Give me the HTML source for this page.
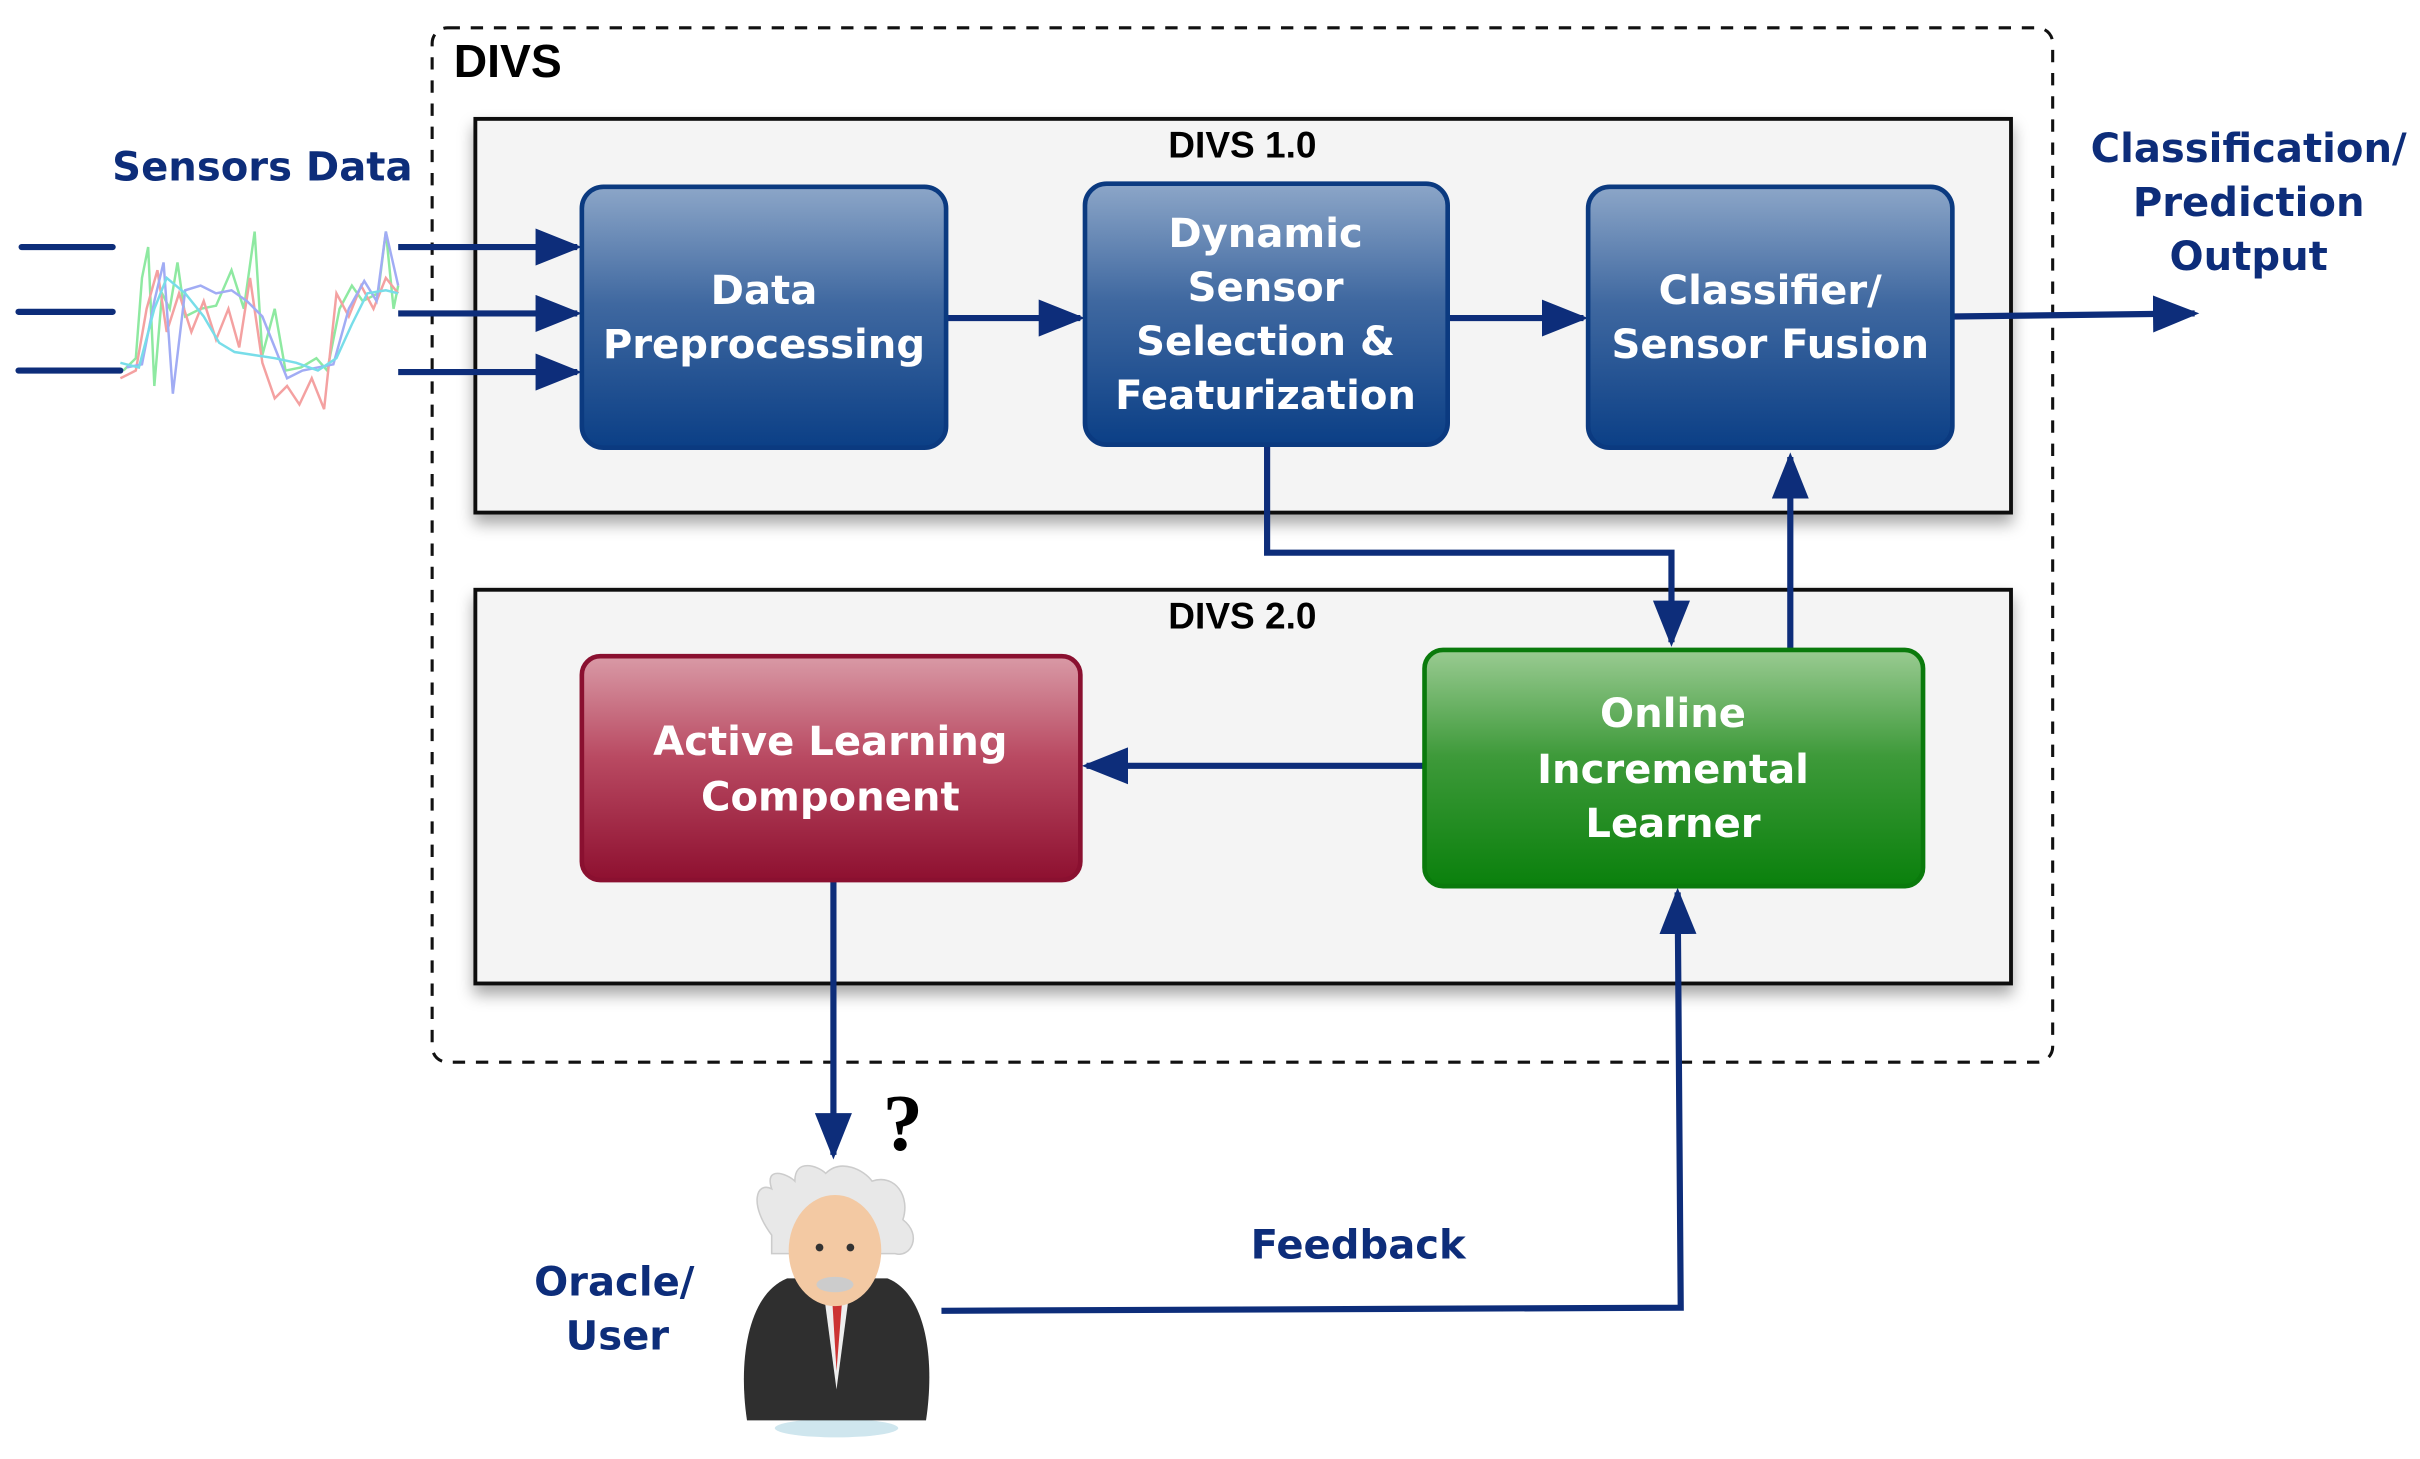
<!DOCTYPE html>
<html><head><meta charset="utf-8"><style>
html,body{margin:0;padding:0;background:#fff;}
svg{display:block;}
.bt{font-family:"DejaVu Sans","Liberation Sans",sans-serif;font-weight:bold;fill:#fff;font-size:26px;text-anchor:middle;}
.lb{font-family:"DejaVu Sans","Liberation Sans",sans-serif;font-weight:bold;fill:#0d2d7a;font-size:26px;text-anchor:middle;}
.hd{font-family:"Liberation Sans",sans-serif;font-weight:bold;fill:#000;text-anchor:middle;}
</style></head><body>
<svg width="2420" height="1459" viewBox="0 0 1568 945" preserveAspectRatio="none" xmlns="http://www.w3.org/2000/svg">
<defs>
<linearGradient id="gb" x1="0" y1="0" x2="0" y2="1"><stop offset="0" stop-color="#8ca6c8"/><stop offset="0.45" stop-color="#3f68a0"/><stop offset="1" stop-color="#0b3f86"/></linearGradient>
<linearGradient id="gr" x1="0" y1="0" x2="0" y2="1"><stop offset="0" stop-color="#d99aa6"/><stop offset="0.45" stop-color="#b94a62"/><stop offset="1" stop-color="#8e1030"/></linearGradient>
<linearGradient id="gg" x1="0" y1="0" x2="0" y2="1"><stop offset="0" stop-color="#9acb92"/><stop offset="0.45" stop-color="#3e9a3a"/><stop offset="1" stop-color="#0a800c"/></linearGradient>
<filter id="sh" x="-5%" y="-5%" width="110%" height="120%"><feDropShadow dx="0" dy="6" stdDeviation="5" flood-color="#000" flood-opacity="0.35"/></filter>
<marker id="ah" viewBox="0 0 10 10" refX="9" refY="5" markerWidth="30" markerHeight="24" markerUnits="userSpaceOnUse" orient="auto" preserveAspectRatio="none"><path d="M0,0 L10,5 L0,10 z" fill="#0d2d7a"/></marker>
</defs>
<rect x="280" y="18" width="1050" height="670" rx="10" fill="none" stroke="#111" stroke-width="2" stroke-dasharray="8,7"/>
<text x="329" y="50" class="hd" font-size="30">DIVS</text>
<rect x="308" y="77" width="995" height="255" fill="#f4f4f4" stroke="#111" stroke-width="2.5" filter="url(#sh)"/>
<rect x="308" y="382" width="995" height="255" fill="#f4f4f4" stroke="#111" stroke-width="2.5" filter="url(#sh)"/>
<text x="805" y="102" class="hd" font-size="24">DIVS 1.0</text>
<text x="805" y="407" class="hd" font-size="24">DIVS 2.0</text>
<g stroke-width="1.6" fill="none" opacity="0.7">
<polyline stroke="#5fe07a" points="80,240 88,232 92,180 96,160 100,250 105,190 110,200 115,170 120,205 130,200 140,198 150,175 158,200 165,150 170,230 178,200 185,240 195,238 205,232 212,240 220,200 228,185 235,195 245,190 250,150 255,200 258,185"/>
<polyline stroke="#f07a7a" points="78,245 88,240 95,200 102,175 108,215 116,190 124,215 132,195 140,220 148,200 155,225 162,180 170,235 178,258 186,250 194,262 202,245 210,265 218,190 226,205 234,185 242,200 250,180 258,190"/>
<polyline stroke="#7a8af0" points="82,238 92,236 100,195 106,170 112,255 120,188 130,185 140,190 150,188 160,195 170,205 178,225 186,245 196,240 206,238 216,236 226,200 236,182 244,195 250,150 258,185"/>
<polyline stroke="#40d0e0" points="78,235 90,238 100,200 108,180 120,190 132,205 142,222 152,228 165,230 178,232 192,235 206,240 218,232 228,210 238,190 250,188 258,190"/>
</g>
<g stroke="#0d2d7a" stroke-width="4" stroke-linecap="round">
<line x1="14" y1="160" x2="73" y2="160"/><line x1="12" y1="202" x2="73" y2="202"/><line x1="12" y1="240" x2="78" y2="240"/>
</g>
<g stroke="#0d2d7a" stroke-width="4" fill="none" marker-end="url(#ah)">
<line x1="258" y1="160" x2="374" y2="160"/>
<line x1="258" y1="203" x2="374" y2="203"/>
<line x1="258" y1="241" x2="374" y2="241"/>
<line x1="613" y1="206" x2="700" y2="206"/>
<line x1="938" y1="206" x2="1026" y2="206"/>
<line x1="1265" y1="205" x2="1422" y2="203"/>
<polyline points="821,288 821,358 1083,358 1083,416"/>
<line x1="1160" y1="421" x2="1160" y2="296"/>
<line x1="923" y1="496" x2="704" y2="496"/>
<polyline points="540,570 540,748"/>
<polyline points="610,849 1089,847 1087,578"/>
</g>
<rect x="377" y="121" width="236" height="169" rx="14" fill="url(#gb)" stroke="#0b3a80" stroke-width="3"/>
<rect x="703" y="119" width="235" height="169" rx="14" fill="url(#gb)" stroke="#0b3a80" stroke-width="3"/>
<rect x="1029" y="121" width="236" height="169" rx="14" fill="url(#gb)" stroke="#0b3a80" stroke-width="3"/>
<text class="bt" x="495" y="197">Data</text>
<text class="bt" x="495" y="232">Preprocessing</text>
<text class="bt" x="820" y="160">Dynamic</text>
<text class="bt" x="820" y="195">Sensor</text>
<text class="bt" x="820" y="230">Selection &amp;</text>
<text class="bt" x="820" y="265">Featurization</text>
<text class="bt" x="1147" y="197">Classifier/</text>
<text class="bt" x="1147" y="232">Sensor Fusion</text>
<rect x="377" y="425" width="323" height="145" rx="12" fill="url(#gr)" stroke="#8a1030" stroke-width="3"/>
<text class="bt" x="538" y="489">Active Learning</text>
<text class="bt" x="538" y="525">Component</text>
<rect x="923" y="421" width="323" height="153" rx="12" fill="url(#gg)" stroke="#0a7a0c" stroke-width="3"/>
<text class="bt" x="1084" y="471">Online</text>
<text class="bt" x="1084" y="507">Incremental</text>
<text class="bt" x="1084" y="542">Learner</text>
<text class="lb" x="170" y="117">Sensors Data</text>
<text class="lb" x="1457" y="105">Classification/</text>
<text class="lb" x="1457" y="140">Prediction</text>
<text class="lb" x="1457" y="175">Output</text>
<text class="lb" x="398" y="839">Oracle/</text>
<text class="lb" x="400" y="874">User</text>
<text class="lb" x="880" y="815">Feedback</text>
<text x="585" y="745" font-family="Liberation Serif,serif" font-weight="bold" font-size="52" text-anchor="middle" fill="#000">?</text>
<g>
<ellipse cx="542" cy="925" rx="40" ry="6" fill="#cfe6ee"/>
<path d="M484,920 C478,880 485,838 510,828 L575,828 C600,838 606,880 600,920 Z" fill="#2f2f2f"/>
<path d="M533,832 L542,900 L551,832 Z" fill="#eee"/>
<path d="M539,838 L542,888 L546,838 Z" fill="#c33"/>
<path d="M500,800 C485,780 490,765 500,770 C495,755 510,760 515,765 C515,750 530,755 535,760 C545,750 560,758 565,765 C580,760 590,775 585,790 C598,800 590,815 580,812 L500,812 Z" fill="#e8e8e8" stroke="#ccc"/>
<ellipse cx="541" cy="810" rx="30" ry="36" fill="#f3c9a3"/>
<ellipse cx="541" cy="832" rx="12" ry="5" fill="#ccc"/>
<circle cx="531" cy="808" r="2.5" fill="#333"/><circle cx="551" cy="808" r="2.5" fill="#333"/>
</g>
</svg>
</body></html>
